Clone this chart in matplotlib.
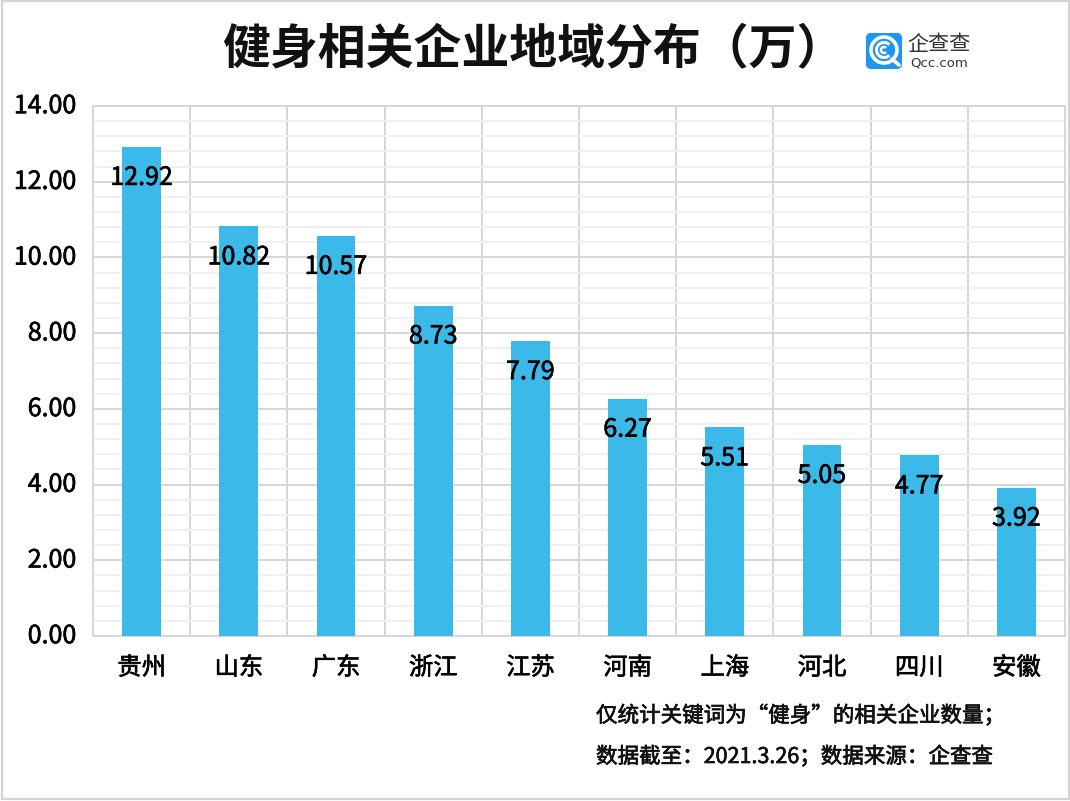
import matplotlib
matplotlib.use('Agg')
import matplotlib.pyplot as plt
import matplotlib.patheffects as pe
from matplotlib.transforms import ScaledTranslation
from matplotlib.patches import FancyBboxPatch, Rectangle, Circle, Arc
from matplotlib.ticker import MultipleLocator

plt.rcParams['font.family'] = ['Noto Sans CJK SC', 'DejaVu Sans']

categories = ['贵州', '山东', '广东', '浙江', '江苏', '河南', '上海', '河北', '四川', '安徽']
values = [12.92, 10.82, 10.57, 8.73, 7.79, 6.27, 5.51, 5.05, 4.77, 3.92]
y_ticks = [0, 2, 4, 6, 8, 10, 12, 14]
title = '健身相关企业地域分布（万）'
note1 = '仅统计关键词为“健身”的相关企业数量；'
note2 = '数据截至：2021.3.26；数据来源：企查查'

W, H = 1070, 801
fig = plt.figure(figsize=(W/100, H/100), dpi=100, facecolor='white')
def fx(x): return x/W
def fy(y): return 1-y/H
medium = [pe.withStroke(linewidth=0.45, foreground='black')]

# outer frame
fig.add_artist(Rectangle((fx(2), fy(799)), fx(1067), 798/H, transform=fig.transFigure,
                         fill=False, ec='#d4d4d4', lw=1.6))

ax = fig.add_axes([fx(93), fy(636), fx(972), (636-106)/H])
x = range(len(categories))
ax.bar(x, values, width=0.4, color='#3bb9e8', zorder=3)
ax.set_xlim(-0.5, len(categories)-0.5)
ax.set_ylim(0, 14)
ax.yaxis.set_minor_locator(MultipleLocator(0.4))
ax.set_xticks(list(x))
ax.set_xticks([i-0.5 for i in x][1:], minor=True)
ax.set_xticklabels(categories, fontsize=17.5, color='black', path_effects=medium)
ax.set_yticks(y_ticks)
ax.set_yticklabels([f'{v:.2f}' for v in y_ticks], fontsize=18, color='black', path_effects=medium)
ax.tick_params(axis='both', which='both', length=0)
ax.tick_params(axis='x', which='major', pad=13.5)
ax.tick_params(axis='y', which='major', pad=12)
# tick labels sit a little above their gridlines
shift = ScaledTranslation(0, 2/72, fig.dpi_scale_trans)
for lab in ax.get_yticklabels():
    lab.set_transform(lab.get_transform() + shift)
ax.grid(True, axis='y', which='minor', color='#f0f0f0', lw=1.4, zorder=0)
ax.grid(True, axis='y', which='major', color='#d6d6d6', lw=1.4, zorder=1)
ax.grid(True, axis='x', which='minor', color='#d6d6d6', lw=1.4, zorder=1)
ax.grid(False, axis='x', which='major')
for s in ax.spines.values():
    s.set_color('#d6d6d6')
    s.set_linewidth(1.4)

for i, v in zip(x, values):
    ax.annotate(f'{v:.2f}', (i, v), xytext=(0, -31), textcoords='offset pixels',
                ha='center', va='center', fontsize=18, color='black', zorder=5, path_effects=medium)

fig.text(fx(533), fy(50), title, ha='center', va='center', fontsize=34.5, fontweight='bold', color='#111111')
fig.text(fx(596), fy(716), note1, ha='left', va='center', fontsize=15.5, color='#111111', path_effects=medium)
fig.text(fx(596), fy(757), note2, ha='left', va='center', fontsize=15.5, color='#111111', path_effects=medium)

# logo
lg = fig.add_axes([0, 0, 1, 1], facecolor='none')
lg.set_xlim(0, W); lg.set_ylim(H, 0); lg.axis('off')
lg.add_patch(FancyBboxPatch((866, 33), 36, 36, boxstyle='round,pad=0,rounding_size=5', fc='#1e96f0', ec='none'))
lg.add_patch(Circle((884, 50), 13, fill=False, ec='white', lw=2.6))
lg.add_patch(Arc((884, 50), 15, 15, theta1=45, theta2=315, ec='white', lw=2.2))
lg.add_patch(Arc((884, 50), 6, 6, theta1=45, theta2=315, ec='white', lw=1.8))
lg.plot([892, 899], [59, 65], color='white', lw=2.6, solid_capstyle='round')
lg.text(939.5, 44, '企查查', ha='center', va='center', fontsize=15.2, fontweight='light', color='#333333')
lg.text(939.5, 63, 'Qcc.com', ha='center', va='center', fontsize=9.5, color='#333333',
        family=['DejaVu Sans'])

fig.savefig('out.png', dpi=100)
